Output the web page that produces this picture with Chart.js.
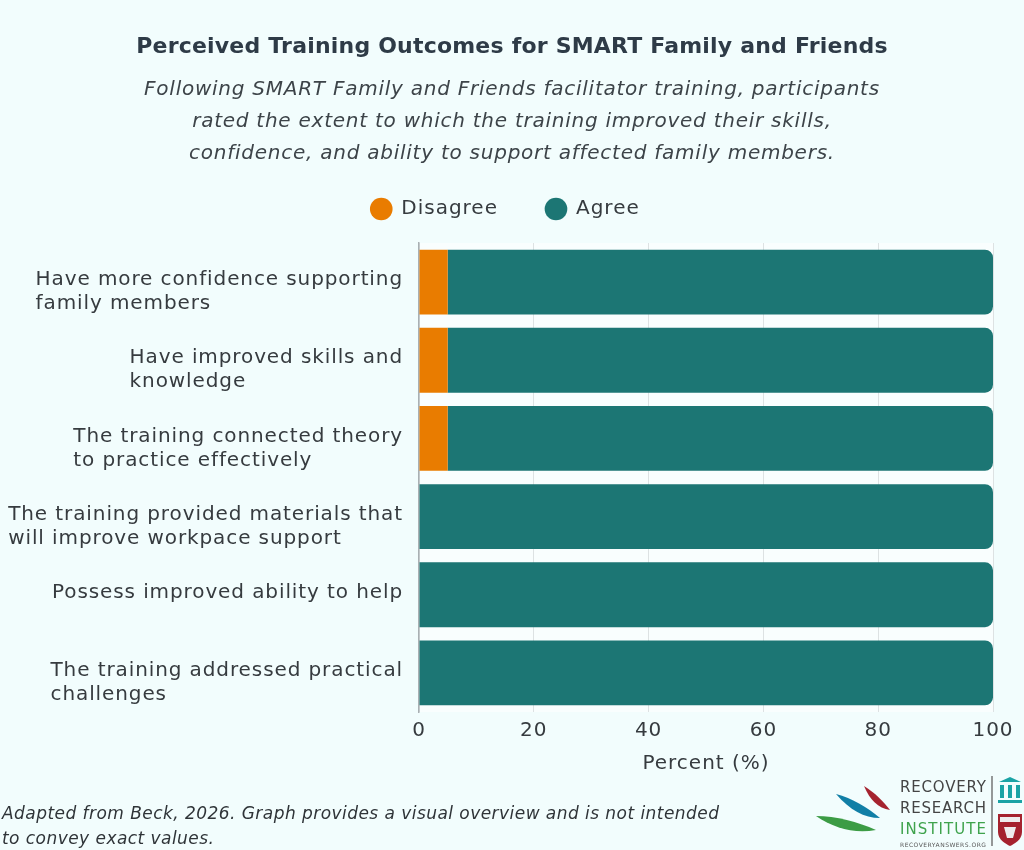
<!DOCTYPE html>
<html>
<head>
<meta charset="utf-8">
<script src="https://cdn.jsdelivr.net/npm/chart.js@4.4.1/dist/chart.umd.min.js"></script>
<style>
  html, body { margin: 0; padding: 0; background: #f2fdfd; }
  #wrap { position: relative; width: 1024px; height: 850px; font-family: 'DejaVu Sans', sans-serif; }
  #chart { position: absolute; left: 0; top: 0; }
  #title {
    position: absolute; left: 0; width: 1024px; top: 32px; text-align: center;
    font-weight: bold; font-size: 22px; line-height: 28px; letter-spacing: 0.2px; color: #2e3b47;
  }
  #subtitle {
    position: absolute; left: 0; width: 1024px; top: 72px; text-align: center;
    font-style: italic; font-size: 20px; line-height: 32px; letter-spacing: 0.75px; color: #3d4449;
  }
  #note {
    position: absolute; left: 2px; top: 801px; width: 800px;
    font-style: italic; font-size: 17px; line-height: 25px; letter-spacing: 0.45px; color: #2f3438;
  }
  #logo { position: absolute; left: 810px; top: 772px; }
</style>
</head>
<body>
<div id="wrap">
  <canvas id="chart" width="1024" height="850"></canvas>
  <div id="title">Perceived Training Outcomes for SMART Family and Friends</div>
  <div id="subtitle">Following SMART Family and Friends facilitator training, participants<br>rated the extent to which the training improved their skills,<br>confidence, and ability to support affected family members.</div>
  <div id="note">Adapted from Beck, 2026. Graph provides a visual overview and is not intended<br>to convey exact values.</div>
  <svg id="logo" width="214" height="78" viewBox="0 0 214 78">
    <path d="M54 14 C 64 20, 74 30, 80 38 C 68 36, 60 28, 54 14 Z" fill="#a5232f"/>
    <path d="M26 22 C 42 26, 58 36, 70 46 C 54 46, 40 38, 26 22 Z" fill="#117fa6"/>
    <path d="M6 44 C 26 44, 48 50, 66 58 C 44 62, 24 56, 6 44 Z" fill="#3c9c45"/>
    <text x="90" y="20" font-family="'DejaVu Sans', sans-serif" font-size="15" fill="#444" textLength="86">RECOVERY</text>
    <text x="90" y="41" font-family="'DejaVu Sans', sans-serif" font-size="15" fill="#444" textLength="86">RESEARCH</text>
    <text x="90" y="62" font-family="'DejaVu Sans', sans-serif" font-size="15" fill="#3fa34d" textLength="86">INSTITUTE</text>
    <text x="90" y="75" font-family="'DejaVu Sans', sans-serif" font-size="6" fill="#555" textLength="86">RECOVERYANSWERS.ORG</text>
    <line x1="182" y1="4" x2="182" y2="74" stroke="#555" stroke-width="1.2"/>
    <path d="M189 10 L200 5 L211 10 Z" fill="#1aa3a5"/>
    <rect x="190" y="13" width="4" height="13" fill="#1aa3a5"/>
    <rect x="198" y="13" width="4" height="13" fill="#1aa3a5"/>
    <rect x="206" y="13" width="4" height="13" fill="#1aa3a5"/>
    <rect x="188" y="28" width="24" height="3" fill="#1aa3a5"/>
    <path d="M188 42 L212 42 L212 60 C 212 68, 204 72, 200 74 C 196 72, 188 68, 188 60 Z" fill="#a5232f"/>
    <rect x="190" y="45" width="20" height="5" fill="#eee"/>
    <path d="M194 55 L206 55 L203 66 L197 66 Z" fill="#eee"/>
  </svg>
</div>
<script>
const FONT = "'DejaVu Sans', sans-serif";

const categories = [
  ['Have more confidence supporting', 'family members'],
  ['Have improved skills and', 'knowledge'],
  ['The training connected theory', 'to practice effectively'],
  ['The training provided materials that', 'will improve workpace support'],
  ['Possess improved ability to help'],
  ['The training addressed practical', 'challenges']
];
const disagree = [5, 5, 5, 0, 0, 0];
const agree = [95, 95, 95, 100, 100, 100];
const xTicks = [0, 20, 40, 60, 80, 100];

// wide letters, closer to the original typeface
const spacing = {
  id: 'spacing',
  beforeUpdate(chart) { chart.ctx.letterSpacing = '1px'; },
  afterLayout(chart) {
    chart.legend.left += 9;
    chart.legend.right += 9;
  },
  beforeDraw(chart) {
    const { ctx, chartArea } = chart;
    ctx.letterSpacing = '1px';
    ctx.save();
    ctx.fillStyle = '#f9fefe';
    ctx.fillRect(chartArea.left, chartArea.top, chartArea.right - chartArea.left, chartArea.bottom - chartArea.top);
    ctx.restore();
  }
};

// category labels: left-aligned blocks ending next to the axis
const labelPlugin = {
  id: 'blockLabels',
  afterDraw(chart) {
    const { ctx } = chart;
    const yScale = chart.scales.y;
    ctx.save();
    ctx.font = '20px ' + FONT;
    ctx.letterSpacing = '0.9px';
    ctx.fillStyle = '#363b3f';
    ctx.textAlign = 'left';
    ctx.textBaseline = 'middle';
    categories.forEach((lines, i) => {
      const y = yScale.getPixelForTick(i);
      const widest = Math.max(...lines.map((l) => ctx.measureText(l).width));
      const x = chart.chartArea.left - 16 - widest;
      lines.forEach((l, j) => {
        ctx.fillText(l, x, y - 2 + j * 24);
      });
    });
    ctx.restore();
  }
};

const legendGap = {
  id: 'legendGap',
  beforeInit(chart) {
    const fit = chart.legend.fit;
    chart.legend.fit = function () {
      fit.bind(chart.legend)();
      this.height += 14;
    };
  }
};

const ctx = document.getElementById('chart').getContext('2d');
new Chart(ctx, {
  type: 'bar',
  data: {
    labels: categories.map((c) => c.join(' ')),
    datasets: [
      {
        label: 'Disagree',
        data: disagree,
        backgroundColor: '#e97c00',
        borderRadius: 0,
        barPercentage: 0.83,
        categoryPercentage: 1
      },
      {
        label: 'Agree',
        data: agree,
        backgroundColor: '#1c7674',
        borderRadius: 8,
        borderSkipped: 'start',
        barPercentage: 0.83,
        categoryPercentage: 1
      }
    ]
  },
  options: {
    responsive: false,
    animation: false,
    indexAxis: 'y',
    layout: { padding: { left: 0, right: 31, top: 151, bottom: 74 } },
    plugins: {
      legend: {
        display: true,
        labels: {
          usePointStyle: true,
          pointStyle: 'circle',
          boxHeight: 16,
          boxWidth: 22,
          color: '#363b3f',
          padding: 48,
          font: { family: FONT, size: 20 }
        }
      },
      tooltip: { enabled: false }
    },
    scales: {
      x: {
        stacked: true,
        min: 0,
        max: 100,
        afterBuildTicks: (s) => { s.ticks = xTicks.map((v) => ({ value: v })); },
        ticks: { color: '#363b3f', font: { family: FONT, size: 20 }, padding: 7 },
        grid: { color: '#dde2e3', drawTicks: false },
        border: { display: false },
        title: {
          display: true,
          text: 'Percent (%)',
          color: '#363b3f',
          font: { family: FONT, size: 20 },
          padding: { top: 2, bottom: 0 }
        }
      },
      y: {
        stacked: true,
        ticks: { display: false },
        grid: { display: false },
        border: { display: true, color: '#a9b0b3', width: 1.5 },
        afterFit: (s) => { s.width = 419; }
      }
    }
  },
  plugins: [spacing, labelPlugin, legendGap]
});
</script>
</body>
</html>
